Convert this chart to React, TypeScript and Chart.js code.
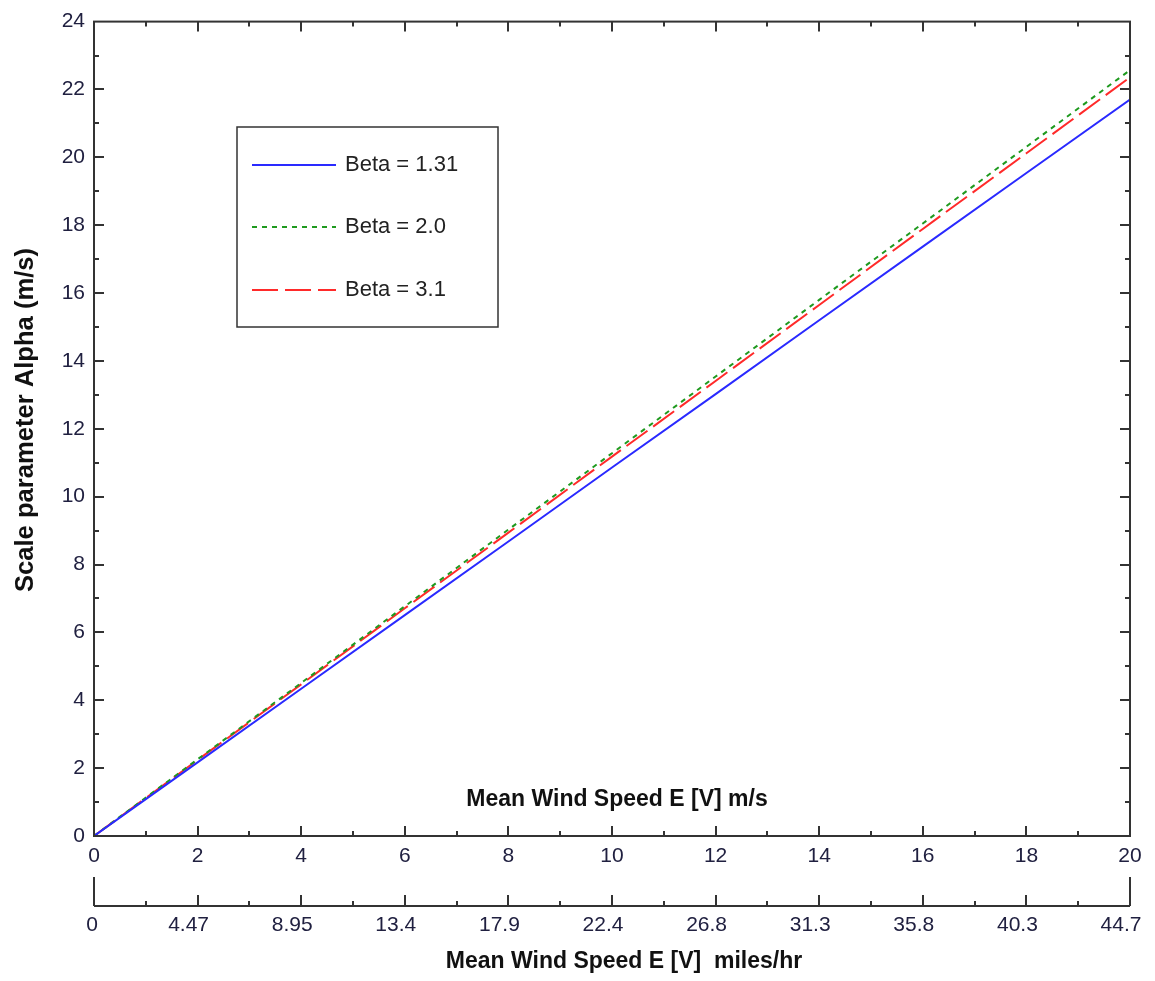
import React, { useEffect, useRef } from "react";
import { Chart, registerables } from "chart.js";

Chart.register(...registerables);

// Mean wind speed E[V] in m/s (x values)
const windSpeedMs = [0, 2, 4, 6, 8, 10, 12, 14, 16, 18, 20];
// Scale parameter Alpha (m/s) for each shape parameter Beta
const alphaBeta131 = [0, 2.17, 4.34, 6.51, 8.68, 10.86, 13.02, 15.2, 17.37, 19.54, 21.7];
const alphaBeta20 = [0, 2.26, 4.51, 6.77, 9.03, 11.28, 13.54, 15.8, 18.05, 20.31, 22.57];
const alphaBeta31 = [0, 2.24, 4.47, 6.71, 8.94, 11.18, 13.41, 15.65, 17.89, 20.12, 22.36];
const seriesNames = ["Beta = 1.31", "Beta = 2.0", "Beta = 3.1"];
// Secondary axis (miles/hr) labels at each major m/s tick
const milesPerHourLabels = ["0", "4.47", "8.95", "13.4", "17.9", "22.4", "26.8", "31.3", "35.8", "40.3", "44.7"];

const FONT = "'Liberation Sans', Arial, sans-serif";
const TICK_COLOR = "#202040";
const AXIS_COLOR = "#333333";

const extrasPlugin = {
  id: "extras",
  afterDraw(chart: any) {
    const { ctx, chartArea } = chart;
    const xs = chart.scales.x;
    const ys = chart.scales.y;
    const { left, right, top, bottom } = chartArea;
    ctx.save();
    // frame
    ctx.strokeStyle = AXIS_COLOR;
    ctx.lineWidth = 2;
    ctx.setLineDash([]);
    ctx.strokeRect(left, top, right - left, bottom - top);
    // inward ticks on x (bottom and top)
    ctx.lineWidth = 2;
    ctx.beginPath();
    for (let v = 1; v < 20; v++) {
      const px = Math.round(xs.getPixelForValue(v));
      const len = v % 2 === 0 ? 10 : 5;
      ctx.moveTo(px, bottom);
      ctx.lineTo(px, bottom - len);
      ctx.moveTo(px, top);
      ctx.lineTo(px, top + len);
    }
    for (let v = 1; v < 24; v++) {
      const py = Math.round(ys.getPixelForValue(v));
      const len = v % 2 === 0 ? 10 : 5;
      ctx.moveTo(left, py);
      ctx.lineTo(left + len, py);
      ctx.moveTo(right, py);
      ctx.lineTo(right - len, py);
    }
    ctx.stroke();

    // in-plot x title
    ctx.fillStyle = "#111";
    ctx.font = `bold 23px ${FONT}`;
    ctx.textAlign = "center";
    ctx.textBaseline = "middle";
    ctx.fillText("Mean Wind Speed E [V] m/s", 617, 800);

    // secondary axis (miles/hr)
    const axisY = 906;
    ctx.beginPath();
    ctx.moveTo(left, axisY);
    ctx.lineTo(right, axisY);
    ctx.moveTo(left, axisY - 29);
    ctx.lineTo(left, axisY);
    ctx.moveTo(right, axisY - 29);
    ctx.lineTo(right, axisY);
    for (let v = 1; v < 20; v++) {
      const px = Math.round(xs.getPixelForValue(v));
      const len = v % 2 === 0 ? 11 : 5;
      ctx.moveTo(px, axisY);
      ctx.lineTo(px, axisY - len);
    }
    ctx.stroke();
    ctx.fillStyle = TICK_COLOR;
    ctx.font = `21px ${FONT}`;
    milesPerHourLabels.forEach((lab, i) => {
      const px = xs.getPixelForValue(windSpeedMs[i]);
      ctx.fillText(lab, px - (i === 0 ? 2 : 9), 925);
    });
    ctx.fillStyle = "#111";
    ctx.font = `bold 23px ${FONT}`;
    ctx.fillText("Mean Wind Speed E [V]  miles/hr", 624, 962);

    // y title
    ctx.save();
    ctx.translate(26, 420);
    ctx.rotate(-Math.PI / 2);
    ctx.font = `bold 25.6px ${FONT}`;
    ctx.fillText("Scale parameter Alpha (m/s)", 0, 0);
    ctx.restore();

    // legend box
    const bx = 237, by = 127, bw = 261, bh = 200;
    ctx.fillStyle = "#fff";
    ctx.fillRect(bx, by, bw, bh);
    ctx.strokeStyle = AXIS_COLOR;
    ctx.lineWidth = 1.5;
    ctx.strokeRect(bx, by, bw, bh);
    const rows = [165, 227, 290];
    chart.data.datasets.forEach((ds: any, i: number) => {
      ctx.strokeStyle = ds.borderColor;
      ctx.lineWidth = 2;
      ctx.setLineDash(ds.borderDash || []);
      ctx.beginPath();
      ctx.moveTo(252, rows[i]);
      ctx.lineTo(336, rows[i]);
      ctx.stroke();
      ctx.setLineDash([]);
      ctx.fillStyle = "#222";
      ctx.font = `22px ${FONT}`;
      ctx.textAlign = "left";
      ctx.textBaseline = "middle";
      ctx.fillText(ds.label, 345, rows[i]);
    });
    ctx.restore();
  },
};

export default function App() {
  const canvasRef = useRef<HTMLCanvasElement | null>(null);

  useEffect(() => {
    document.body.style.margin = "0";
    const canvas = canvasRef.current;
    if (!canvas) return;
    const mk = (vals: number[]) => windSpeedMs.map((x, i) => ({ x, y: vals[i] }));
    const chart = new Chart(canvas, {
      type: "line",
      data: {
        datasets: [
          { label: seriesNames[0], data: mk(alphaBeta131), borderColor: "#2a2aff", borderWidth: 2, pointRadius: 0, tension: 0 },
          { label: seriesNames[1], data: mk(alphaBeta20), borderColor: "#1f9a1f", borderWidth: 2, borderDash: [5, 5], pointRadius: 0, tension: 0 },
          { label: seriesNames[2], data: mk(alphaBeta31), borderColor: "#ff2a2a", borderWidth: 2, borderDash: [26, 7], pointRadius: 0, tension: 0 },
        ],
      },
      options: {
        animation: false,
        responsive: true,
        maintainAspectRatio: false,
        layout: { padding: { top: 19, right: 25, left: 0, bottom: 0 } },
        plugins: { legend: { display: false }, tooltip: { enabled: false } },
        scales: {
          x: {
            type: "linear",
            min: 0,
            max: 20,
            position: "bottom",
            grid: { display: false, drawTicks: false },
            border: { display: false },
            ticks: { stepSize: 2, font: { size: 21, family: FONT }, color: TICK_COLOR, padding: 8, maxRotation: 0 },
            afterFit: (s: any) => { s.height = 145; },
          },
          y: {
            type: "linear",
            min: 0,
            max: 24,
            grid: { display: false, drawTicks: false },
            border: { display: false },
            ticks: { stepSize: 2, font: { size: 21, family: FONT }, color: TICK_COLOR, padding: 9 },
            afterFit: (s: any) => { s.width = 94; },
          },
        },
      },
      plugins: [extrasPlugin],
    });
    return () => chart.destroy();
  }, []);

  return (
    <div style={{ width: 1155, height: 981, position: "relative" }}>
      <canvas ref={canvasRef} />
    </div>
  );
}
